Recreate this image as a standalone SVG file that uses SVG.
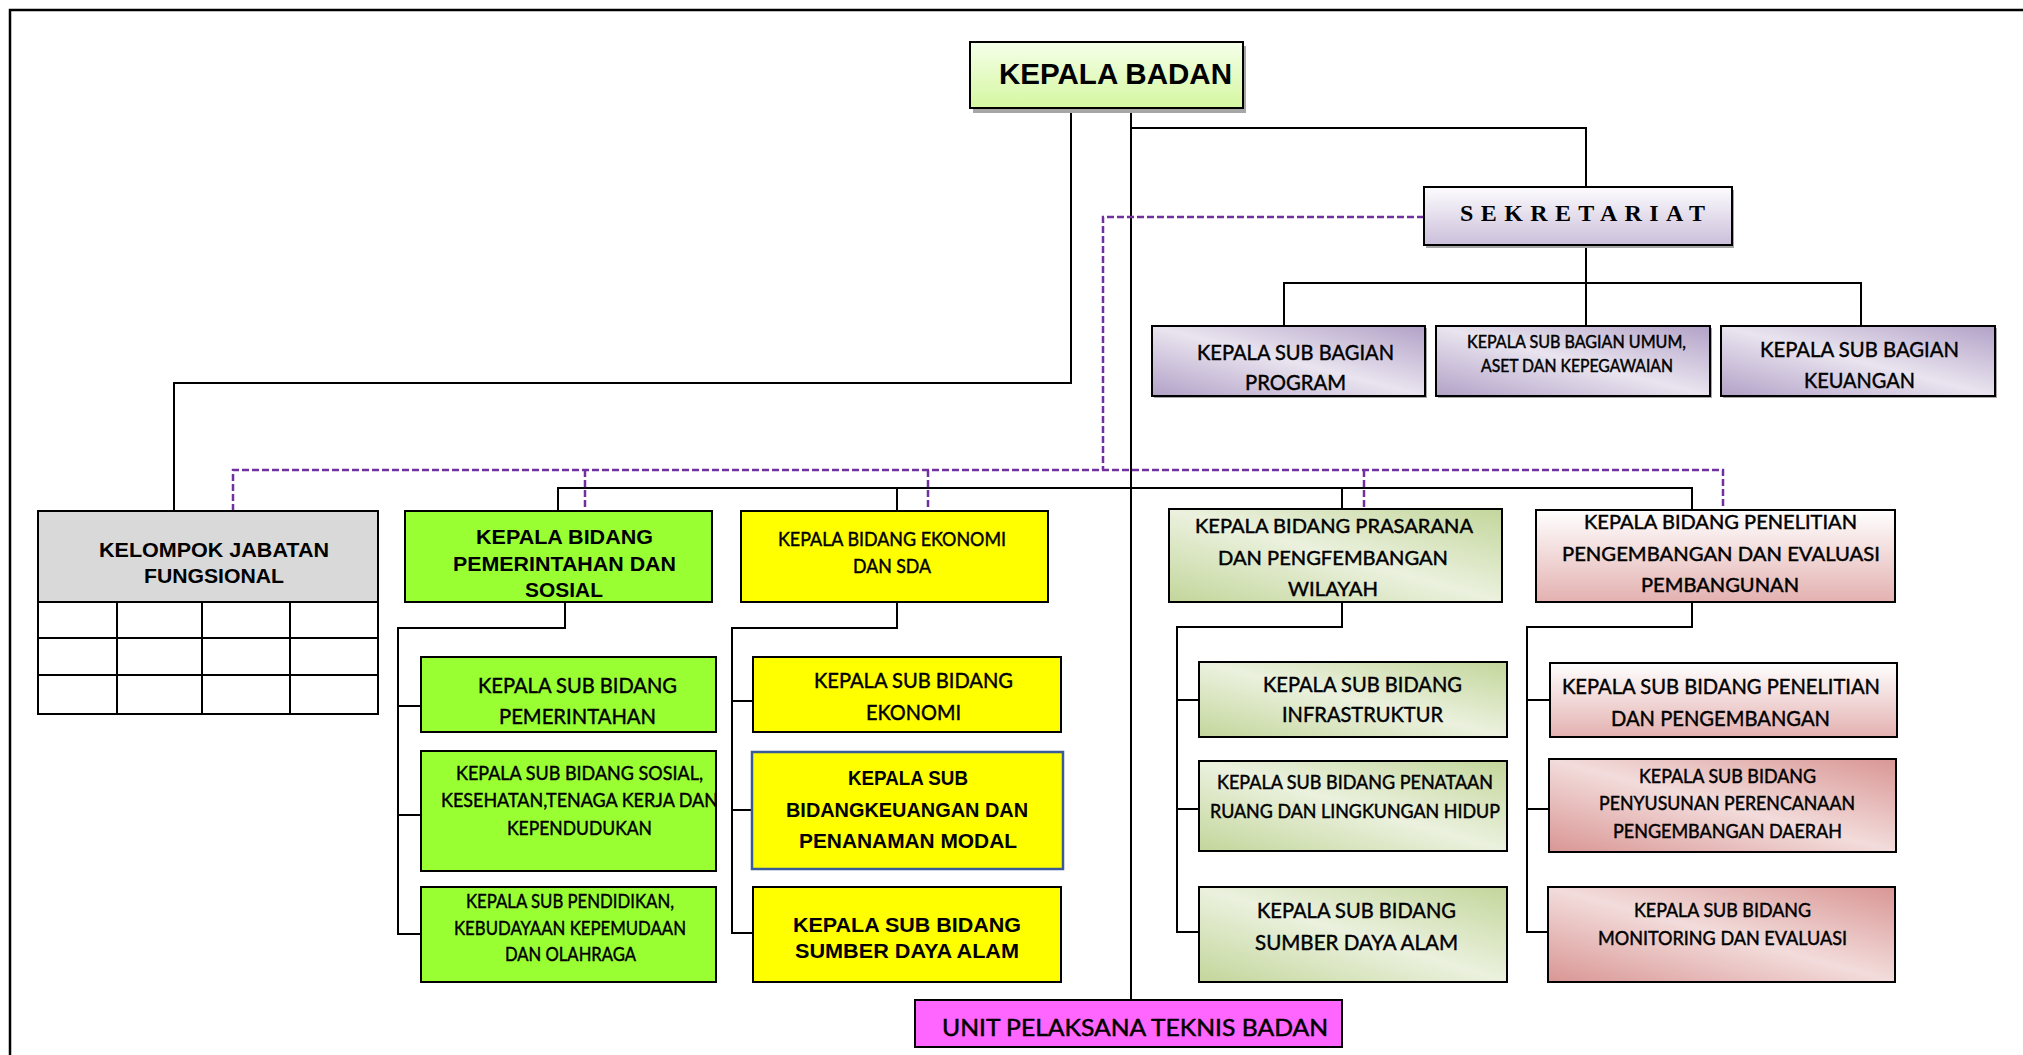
<svg xmlns="http://www.w3.org/2000/svg" width="2023" height="1055" viewBox="0 0 2023 1055">
<style>
.box{stroke:#000;stroke-width:2}
.shadow{fill:#A6A6A6}
text{text-anchor:middle;fill:#000}
.lato{font-family:Lato,"Open Sans","Liberation Sans",sans-serif;stroke:#000;stroke-width:0.45}
.ab{font-family:"Liberation Sans",Arial,sans-serif;font-weight:bold}
.conn{fill:none;stroke:#000;stroke-width:2}
.dash{fill:none;stroke:#7030A0;stroke-width:2.5;stroke-dasharray:7 3}
.grid{fill:none;stroke:#000;stroke-width:2}
</style>
<defs>
<linearGradient id="gKB" x1="0" y1="0" x2="0" y2="1"><stop offset="0" stop-color="#F5FFEA"/><stop offset="1" stop-color="#D5F7A0"/></linearGradient>
<linearGradient id="gSek" x1="0" y1="0" x2="0" y2="1"><stop offset="0" stop-color="#FDFCFE"/><stop offset="1" stop-color="#CBBFDA"/></linearGradient>
<linearGradient id="gPur" x1="1" y1="0" x2="0" y2="1"><stop offset="0" stop-color="#B2A1C7"/><stop offset="0.5" stop-color="#E9E4EF"/><stop offset="1" stop-color="#B2A1C7"/></linearGradient>
<linearGradient id="gGrn" x1="1" y1="0" x2="0" y2="1"><stop offset="0" stop-color="#C3D69B"/><stop offset="0.5" stop-color="#EBF1DE"/><stop offset="1" stop-color="#C3D69B"/></linearGradient>
<linearGradient id="gPink" x1="0" y1="0" x2="0" y2="1"><stop offset="0" stop-color="#FFFFFF"/><stop offset="1" stop-color="#E3B1B0"/></linearGradient>
<linearGradient id="gPink2" x1="1" y1="0" x2="0" y2="1"><stop offset="0" stop-color="#D99694"/><stop offset="0.5" stop-color="#F2DCDB"/><stop offset="1" stop-color="#D99694"/></linearGradient>
</defs>
<rect width="2023" height="1055" fill="#FFFFFF"/>
<path d="M10,1058 V10 H2026" fill="none" stroke="#000" stroke-width="2.5"/>

<g id="connectors">
<path class="conn" d="M1071,108 V383 H174 V511"/>
<path class="conn" d="M1131,108 V1000"/>
<path class="conn" d="M1131,128 H1586 V187"/>
<path class="conn" d="M1586,245 V326 M1284,326 V283 H1861 V326"/>
<path class="conn" d="M558,511 V488 H1692 V510 M897,488 V511 M1342,488 V509"/>
<path class="conn" d="M565,602 V628 H398 V934 H421 M398,706 H421 M398,815 H421"/>
<path class="conn" d="M897,602 V628 H732 V933 H753 M732,701 H753 M732,810 H752"/>
<path class="conn" d="M1342,602 V627 H1177 V932 H1199 M1177,700 H1199 M1177,809 H1199"/>
<path class="conn" d="M1692,602 V627 H1527 V932 H1548 M1527,700 H1550 M1527,809 H1549"/>
<path class="dash" d="M1424,217 H1103 V470"/>
<path class="dash" d="M233,511 V470 H1723 V510"/>
<path class="dash" d="M585,470 V511 M928,470 V511 M1364,470 V509"/>
</g>

<g id="kepala-badan">
<rect class="shadow" x="973" y="46" width="273" height="67"/>
<rect class="box" x="970" y="42" width="273" height="66" fill="url(#gKB)"/>
<text class="ab" x="1115.5" y="84" font-size="29" textLength="233" lengthAdjust="spacingAndGlyphs">KEPALA BADAN</text>
</g>

<g id="sekretariat">
<rect class="shadow" x="1426" y="190" width="308" height="58"/>
<rect class="box" x="1424" y="187" width="308" height="58" fill="url(#gSek)"/>
<text x="1582.5" y="221" font-family="'Liberation Serif','Times New Roman',serif" font-weight="bold" font-size="24" textLength="245" lengthAdjust="spacing">SEKRETARIAT</text>
</g>

<g id="subbag-program">
<rect class="shadow" x="1154" y="328" width="273" height="70"/>
<rect class="box" x="1152" y="326" width="273" height="70" fill="url(#gPur)"/>
<text class="lato" x="1295.5" y="360" font-size="22" textLength="197" lengthAdjust="spacingAndGlyphs">KEPALA SUB BAGIAN</text>
<text class="lato" x="1295.5" y="390" font-size="22" textLength="101" lengthAdjust="spacingAndGlyphs">PROGRAM</text>
</g>

<g id="subbag-umum">
<rect class="shadow" x="1438" y="328" width="274" height="70"/>
<rect class="box" x="1436" y="326" width="274" height="70" fill="url(#gPur)"/>
<text class="lato" x="1576.5" y="348" font-size="17" textLength="219" lengthAdjust="spacingAndGlyphs">KEPALA SUB BAGIAN UMUM,</text>
<text class="lato" x="1577" y="372" font-size="17" textLength="192" lengthAdjust="spacingAndGlyphs">ASET DAN KEPEGAWAIAN</text>
</g>

<g id="subbag-keuangan">
<rect class="shadow" x="1723" y="328" width="274" height="70"/>
<rect class="box" x="1721" y="326" width="274" height="70" fill="url(#gPur)"/>
<text class="lato" x="1859.5" y="357" font-size="22" textLength="199" lengthAdjust="spacingAndGlyphs">KEPALA SUB BAGIAN</text>
<text class="lato" x="1859.5" y="388" font-size="22" textLength="111" lengthAdjust="spacingAndGlyphs">KEUANGAN</text>
</g>

<g id="kelompok-jabatan-fungsional">
<rect class="box" x="38" y="511" width="340" height="91" fill="#D9D9D9"/>
<rect class="box" x="38" y="602" width="340" height="112" fill="#FFFFFF"/>
<path class="grid" d="M38,638 H378 M38,675 H378 M117,602 V714 M202,602 V714 M290,602 V714"/>
<text class="ab" x="214" y="557" font-size="21" textLength="230" lengthAdjust="spacingAndGlyphs">KELOMPOK JABATAN</text>
<text class="ab" x="214" y="583" font-size="21" textLength="140" lengthAdjust="spacingAndGlyphs">FUNGSIONAL</text>
</g>

<g id="bidang-pemerintahan">
<rect class="box" x="405" y="511" width="307" height="91" fill="#99FF33"/>
<text class="ab" x="564.5" y="544" font-size="20.5" textLength="177" lengthAdjust="spacingAndGlyphs">KEPALA BIDANG</text>
<text class="ab" x="564.5" y="571" font-size="20.5" textLength="223" lengthAdjust="spacingAndGlyphs">PEMERINTAHAN DAN</text>
<text class="ab" x="564" y="597" font-size="20.5" textLength="78" lengthAdjust="spacingAndGlyphs">SOSIAL</text>
</g>

<g id="subbid-pemerintahan">
<rect class="box" x="421" y="657" width="295" height="75" fill="#99FF33"/>
<text class="lato" x="577.5" y="693" font-size="22" textLength="199" lengthAdjust="spacingAndGlyphs">KEPALA SUB BIDANG</text>
<text class="lato" x="577.5" y="724" font-size="22" textLength="157" lengthAdjust="spacingAndGlyphs">PEMERINTAHAN</text>
</g>

<g id="subbid-sosial">
<rect class="box" x="421" y="751" width="295" height="120" fill="#99FF33"/>
<text class="lato" x="579.5" y="780" font-size="20" textLength="247" lengthAdjust="spacingAndGlyphs">KEPALA SUB BIDANG SOSIAL,</text>
<text class="lato" x="579.5" y="807" font-size="20" textLength="277" lengthAdjust="spacingAndGlyphs">KESEHATAN,TENAGA KERJA DAN</text>
<text class="lato" x="579.5" y="835" font-size="20" textLength="145" lengthAdjust="spacingAndGlyphs">KEPENDUDUKAN</text>
</g>

<g id="subbid-pendidikan">
<rect class="box" x="421" y="887" width="295" height="95" fill="#99FF33"/>
<text class="lato" x="570" y="908" font-size="19.5" textLength="208" lengthAdjust="spacingAndGlyphs">KEPALA SUB PENDIDIKAN,</text>
<text class="lato" x="570" y="935" font-size="19.5" textLength="232" lengthAdjust="spacingAndGlyphs">KEBUDAYAAN KEPEMUDAAN</text>
<text class="lato" x="570.5" y="961" font-size="19.5" textLength="131" lengthAdjust="spacingAndGlyphs">DAN OLAHRAGA</text>
</g>

<g id="bidang-ekonomi">
<rect class="box" x="741" y="511" width="307" height="91" fill="#FFFF00"/>
<text class="lato" x="892" y="546" font-size="19.5" textLength="228" lengthAdjust="spacingAndGlyphs">KEPALA BIDANG EKONOMI</text>
<text class="lato" x="892" y="573" font-size="19.5" textLength="78" lengthAdjust="spacingAndGlyphs">DAN SDA</text>
</g>

<g id="subbid-ekonomi">
<rect class="box" x="753" y="657" width="308" height="75" fill="#FFFF00"/>
<text class="lato" x="913.5" y="688" font-size="22" textLength="199" lengthAdjust="spacingAndGlyphs">KEPALA SUB BIDANG</text>
<text class="lato" x="913.5" y="720" font-size="22" textLength="95" lengthAdjust="spacingAndGlyphs">EKONOMI</text>
</g>

<g id="subbid-keuangan">
<rect x="752" y="752" width="311" height="117" fill="#FFFF00" stroke="#3A5A98" stroke-width="2.5"/>
<text class="ab" x="908" y="785" font-size="21" textLength="120" lengthAdjust="spacingAndGlyphs">KEPALA SUB</text>
<text class="ab" x="907" y="817" font-size="21" textLength="242" lengthAdjust="spacingAndGlyphs">BIDANGKEUANGAN DAN</text>
<text class="ab" x="908" y="848" font-size="21" textLength="218" lengthAdjust="spacingAndGlyphs">PENANAMAN MODAL</text>
</g>

<g id="subbid-sda">
<rect class="box" x="753" y="887" width="308" height="95" fill="#FFFF00"/>
<text class="ab" x="907" y="932" font-size="21" textLength="228" lengthAdjust="spacingAndGlyphs">KEPALA SUB BIDANG</text>
<text class="ab" x="907" y="958" font-size="21" textLength="224" lengthAdjust="spacingAndGlyphs">SUMBER DAYA ALAM</text>
</g>

<g id="bidang-prasarana">
<rect class="box" x="1169" y="509" width="333" height="93" fill="url(#gGrn)"/>
<text class="lato" x="1334" y="533" font-size="20" textLength="278" lengthAdjust="spacingAndGlyphs">KEPALA BIDANG PRASARANA</text>
<text class="lato" x="1333" y="565" font-size="20" textLength="230" lengthAdjust="spacingAndGlyphs">DAN PENGFEMBANGAN</text>
<text class="lato" x="1333" y="596" font-size="20" textLength="90" lengthAdjust="spacingAndGlyphs">WILAYAH</text>
</g>

<g id="subbid-infrastruktur">
<rect class="box" x="1199" y="662" width="308" height="75" fill="url(#gGrn)"/>
<text class="lato" x="1362.5" y="692" font-size="22" textLength="199" lengthAdjust="spacingAndGlyphs">KEPALA SUB BIDANG</text>
<text class="lato" x="1362.5" y="722" font-size="22" textLength="161" lengthAdjust="spacingAndGlyphs">INFRASTRUKTUR</text>
</g>

<g id="subbid-penataan-ruang">
<rect class="box" x="1199" y="761" width="308" height="90" fill="url(#gGrn)"/>
<text class="lato" x="1355" y="789" font-size="19" textLength="276" lengthAdjust="spacingAndGlyphs">KEPALA SUB BIDANG PENATAAN</text>
<text class="lato" x="1355" y="818" font-size="19" textLength="290" lengthAdjust="spacingAndGlyphs">RUANG DAN LINGKUNGAN HIDUP</text>
</g>

<g id="subbid-sumber-daya-alam">
<rect class="box" x="1199" y="887" width="308" height="95" fill="url(#gGrn)"/>
<text class="lato" x="1356.5" y="918" font-size="22" textLength="199" lengthAdjust="spacingAndGlyphs">KEPALA SUB BIDANG</text>
<text class="lato" x="1356.5" y="950" font-size="22" textLength="203" lengthAdjust="spacingAndGlyphs">SUMBER DAYA ALAM</text>
</g>

<g id="bidang-penelitian">
<rect class="box" x="1536" y="510" width="359" height="92" fill="url(#gPink)"/>
<text class="lato" x="1720.5" y="529" font-size="20" textLength="273" lengthAdjust="spacingAndGlyphs">KEPALA BIDANG PENELITIAN</text>
<text class="lato" x="1721" y="561" font-size="20" textLength="318" lengthAdjust="spacingAndGlyphs">PENGEMBANGAN DAN EVALUASI</text>
<text class="lato" x="1720" y="592" font-size="20" textLength="158" lengthAdjust="spacingAndGlyphs">PEMBANGUNAN</text>
</g>

<g id="subbid-penelitian">
<rect class="box" x="1550" y="663" width="347" height="74" fill="url(#gPink)"/>
<text class="lato" x="1721" y="694" font-size="22" textLength="318" lengthAdjust="spacingAndGlyphs">KEPALA SUB BIDANG PENELITIAN</text>
<text class="lato" x="1720.5" y="726" font-size="22" textLength="219" lengthAdjust="spacingAndGlyphs">DAN PENGEMBANGAN</text>
</g>

<g id="subbid-perencanaan">
<rect class="box" x="1549" y="759" width="347" height="93" fill="url(#gPink2)"/>
<text class="lato" x="1727.5" y="783" font-size="19" textLength="177" lengthAdjust="spacingAndGlyphs">KEPALA SUB BIDANG</text>
<text class="lato" x="1727" y="810" font-size="19" textLength="256" lengthAdjust="spacingAndGlyphs">PENYUSUNAN PERENCANAAN</text>
<text class="lato" x="1727.5" y="838" font-size="19" textLength="229" lengthAdjust="spacingAndGlyphs">PENGEMBANGAN DAERAH</text>
</g>

<g id="subbid-monitoring">
<rect class="box" x="1548" y="887" width="347" height="95" fill="url(#gPink2)"/>
<text class="lato" x="1722.5" y="917" font-size="19" textLength="177" lengthAdjust="spacingAndGlyphs">KEPALA SUB BIDANG</text>
<text class="lato" x="1722.5" y="945" font-size="19" textLength="249" lengthAdjust="spacingAndGlyphs">MONITORING DAN EVALUASI</text>
</g>

<g id="unit-pelaksana-teknis">
<rect class="box" x="915" y="1000" width="427" height="47" fill="#FF66FF"/>
<text class="lato" x="1135" y="1036" font-size="22.5" textLength="386" lengthAdjust="spacingAndGlyphs">UNIT PELAKSANA TEKNIS BADAN</text>
</g>
</svg>
